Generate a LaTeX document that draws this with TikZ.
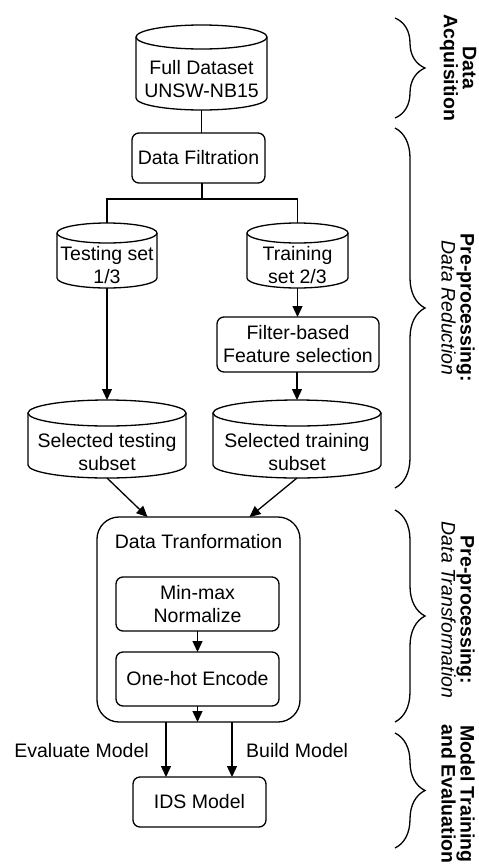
\documentclass[tikz,border=0pt]{standalone}
\usepackage{fontspec}
\setmainfont{Liberation Sans}
\usetikzlibrary{arrows.meta,decorations.pathreplacing,calc}
\newcommand\dbcyl[7]{%
  \node[cylbox, minimum width=#4pt, minimum height=#5pt, anchor=north] (#1) at (#2,#3) {};
  \draw[ln] ([yshift=-#6pt]#1.north west) -- ([yshift=#6pt]#1.south west)
     arc[start angle=180, end angle=360, x radius={#4pt/2}, y radius=#6pt]
     -- ([yshift=-#6pt]#1.north east);
  \draw[ln] ([yshift=-#6pt]#1.north) ellipse[x radius={#4pt/2}, y radius=#6pt];
  \node[txt] (#1-l) at ([yshift=-#6pt]#1.center) {#7};
}
\begin{document}
\begin{tikzpicture}[x=1pt,y=-1pt,
  ln/.style={line width=1.3pt, black},
  cylbox/.style={draw=none, inner sep=0pt, outer sep=0pt},
  txt/.style={font=\fontsize{19.5}{23}\selectfont, align=center, inner sep=0pt},
  box/.style={draw, ln, rounded corners=7pt, inner sep=0pt, outer sep=0pt,
     font=\fontsize{19.5}{23}\selectfont, align=center},
  arr/.style={ln, -{Triangle[length=11pt,width=10pt]}},
  brc/.style={ln, decorate, decoration={brace, amplitude=30pt}},
  side/.style={font=\fontsize{19.5}{19}\selectfont, align=center, inner sep=0pt, rotate=-90}
]
\useasboundingbox (0,0) rectangle (479,868);

% Data acquisition
\dbcyl{full}{201.5}{25}{131}{85}{12}{Full Dataset\\UNSW-NB15}
\node[box, minimum width=133pt, minimum height=50pt] (filt) at (198.5,158) {Data Filtration};
\draw[ln] (full.south) -- (full.south |- filt.north);

% split
\coordinate (split) at (202,199);
\dbcyl{test}{107}{223}{100}{65}{10}{Testing set\\1/3}
\dbcyl{train}{297.5}{223}{101}{65}{10}{Training\\set 2/3}
\draw[ln] (filt.south -| split) -- (split);
\draw[ln] (test.north) |- (split) -| (train.north);

\node[box, minimum width=162pt, minimum height=55pt] (fsel) at (298,344.5) {Filter-based\\Feature selection};
\draw[arr] (train.south) -- (train.south |- fsel.north);

\dbcyl{seltest}{107}{400}{158}{78}{13}{Selected testing\\subset}
\dbcyl{seltrain}{297}{400}{168}{78}{13}{Selected training\\subset}
\draw[arr] (test.south) -- (seltest.north);
\draw[arr] (fsel.south -| seltrain.north) -- (seltrain.north);

% Data transformation
\node[box, rounded corners=22pt, minimum width=203pt, minimum height=205pt] (dt) at (198.5,619.5) {};
\node[txt] (dtt) at (198.5,542) {Data Tranformation};
\node[box, minimum width=163pt, minimum height=54pt] (mm) at (197.5,604) {Min-max\\Normalize};
\node[box, minimum width=163pt, minimum height=54pt] (oh) at (197.5,679) {One-hot Encode};
\draw[arr] (mm.south) -- (oh.north);
\draw[arr] (oh.south) -- (oh.south |- dt.south);

\draw[arr] (seltest.south) -- ([xshift=-51pt]dt.north);
\draw[arr] (seltrain.south) -- ([xshift=51pt]dt.north);

% IDS model
\node[box, minimum width=133pt, minimum height=50pt] (ids) at (199.5,802) {IDS Model};
\coordinate (ev) at (166,722);
\coordinate (bu) at (232,722);
\draw[arr] (ev) -- (ev |- ids.north);
\draw[arr] (bu) -- (bu |- ids.north);
\node[txt, anchor=east] (evl) at (149,751) {Evaluate Model};
\node[txt, anchor=west] (bul) at (246,751) {Build Model};

% braces
\coordinate (b1a) at (395,18);  \coordinate (b1b) at (395,118);
\coordinate (b2a) at (395,128); \coordinate (b2b) at (395,488);
\coordinate (b3a) at (395,510); \coordinate (b3b) at (395,722);
\coordinate (b4a) at (395,733); \coordinate (b4b) at (395,848);
\draw[brc] (b1a) -- (b1b);
\draw[brc] (b2a) -- (b2b);
\draw[brc] (b3a) -- (b3b);
\draw[brc] (b4a) -- (b4b);

\node[side] (s1) at (458,68) {\textbf{Data}\\\textbf{Acquisition}};
\node[side] (s2) at (458,308) {\textbf{Pre-processing:}\\\textit{Data Reduction}};
\node[side] (s3) at (458,610) {\textbf{Pre-processing:}\\\textit{Data Transformation}};
\node[side] (s4) at (458,794) {\textbf{Model Training}\\\textbf{and Evaluation}};
\end{tikzpicture}
\end{document}
